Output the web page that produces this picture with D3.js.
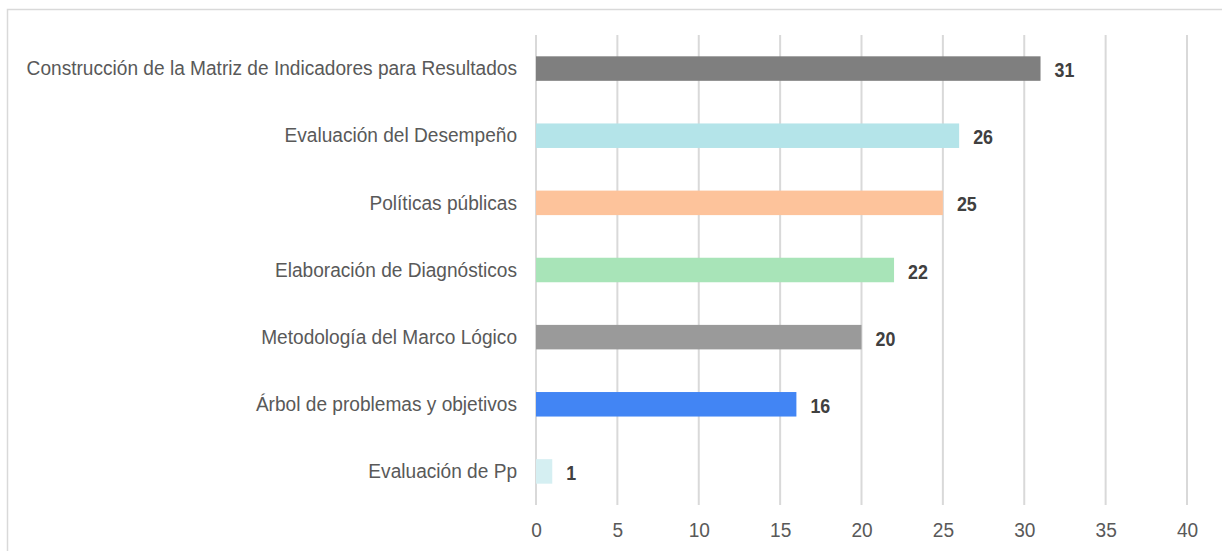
<!DOCTYPE html>
<html>
<head>
<meta charset="utf-8">
<script src="https://cdn.jsdelivr.net/npm/d3@7"></script>
<style>
  body { margin: 0; background: #fff; }
  svg text { font-family: "Liberation Sans Narrow", "Arial Narrow", "Liberation Sans", Arial, sans-serif; }
</style>
</head>
<body>
<svg id="chart"></svg>
<script>
let w = 1222;
let h = 551;

// data (top to bottom)
let categories = [
  "Construcción de la Matriz de Indicadores para Resultados",
  "Evaluación del Desempeño",
  "Políticas públicas",
  "Elaboración de Diagnósticos",
  "Metodología del Marco Lógico",
  "Árbol de problemas y objetivos",
  "Evaluación de Pp"
];
let values = [31, 26, 25, 22, 20, 16, 1];
let barColors = ["#7f7f7f", "#b4e4e9", "#fdc39b", "#a8e4b8", "#9a9a9a", "#4285f4", "#d5eff2"];
let xTicks = [0, 5, 10, 15, 20, 25, 30, 35, 40];

let margin = {top: 35, left: 536, right: 35, bottom: 46};
let squeeze = 0.91; // no narrow font installed, so squeeze the text a bit

let svg = d3.select("#chart")
  .attr("width", w)
  .attr("height", h);

// frame
svg.append("rect")
  .attr("x", 7.5)
  .attr("y", 9.5)
  .attr("width", w)
  .attr("height", h + 20)
  .attr("fill", "none")
  .attr("stroke", "#d9d9d9")
  .attr("stroke-width", 1.5);

let xScale = d3.scaleLinear()
  .domain([0, 40])
  .range([margin.left, 1187]);

let yScale = d3.scaleBand()
  .domain(categories)
  .range([margin.top, h - margin.bottom])
  .paddingInner(0.635)
  .paddingOuter(0.3175);

// gridlines
svg.append("g")
  .selectAll("line")
  .data(xTicks)
  .enter()
  .append("line")
  .attr("x1", (d) => xScale(d))
  .attr("x2", (d) => xScale(d))
  .attr("y1", margin.top)
  .attr("y2", h - margin.bottom)
  .attr("stroke", "#d9d9d9")
  .attr("stroke-width", 2);

// x axis labels
let xAxis = d3.axisBottom(xScale)
  .tickValues(xTicks)
  .tickSize(0)
  .tickPadding(0);

svg.append("g")
  .attr("transform", `translate(0, ${h - margin.bottom + 17})`)
  .call(xAxis)
  .call((g) => g.select(".domain").remove())
  .selectAll("text")
  .attr("font-size", 21)
  .attr("fill", "#595959")
  .attr("dy", "0.71em")
  .attr("transform", `scale(${squeeze},1)`)
  .style("font-family", null);

// category labels
let yAxis = d3.axisLeft(yScale)
  .tickSize(0)
  .tickPadding(19 / squeeze);

svg.append("g")
  .attr("transform", `translate(${margin.left}, 0)`)
  .call(yAxis)
  .call((g) => g.select(".domain").remove())
  .selectAll("text")
  .attr("font-size", 21)
  .attr("fill", "#595959")
  .attr("transform", `scale(${squeeze},1)`)
  .style("font-family", null);

// bars
svg.selectAll("rect.bar")
  .data(values)
  .enter()
  .append("rect")
  .attr("class", "bar")
  .attr("x", xScale(0))
  .attr("y", (d, i) => yScale(categories[i]))
  .attr("width", (d) => xScale(d) - xScale(0))
  .attr("height", yScale.bandwidth())
  .attr("fill", (d, i) => barColors[i]);

// value labels
svg.selectAll("text.val")
  .data(values)
  .enter()
  .append("text")
  .attr("class", "val")
  .attr("transform", (d, i) =>
    `translate(${xScale(d) + 14}, ${yScale(categories[i]) + yScale.bandwidth() / 2 + 1}) scale(0.85,1)`)
  .attr("dy", "0.36em")
  .attr("font-size", 21)
  .attr("font-weight", "bold")
  .attr("fill", "#404040")
  .text((d) => d);
</script>
</body>
</html>
